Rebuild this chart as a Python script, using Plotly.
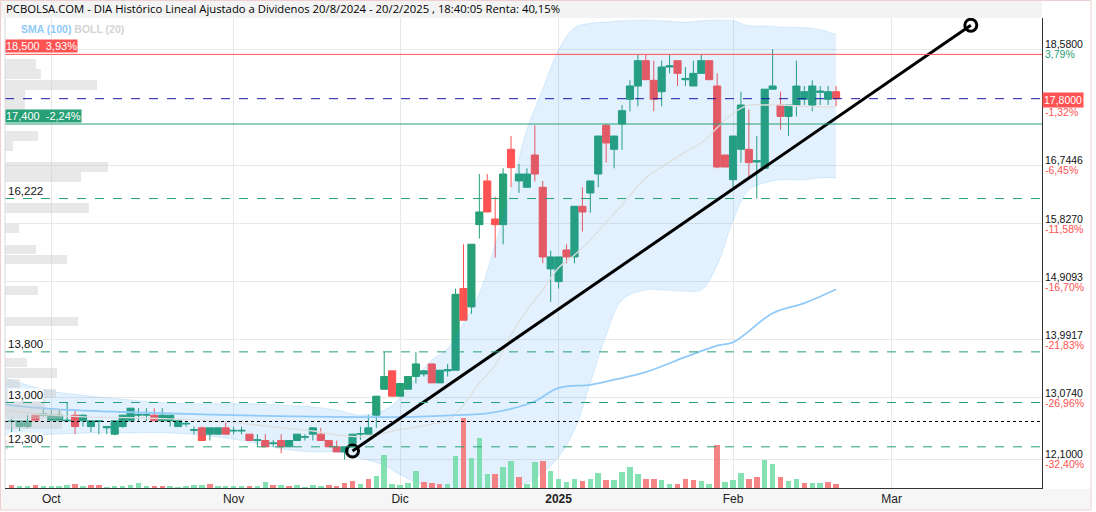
import pandas as pd
import plotly.graph_objects as go

# ---------------- data ----------------
HOLIDAYS = ["2024-12-25", "2024-12-26", "2025-01-01"]
FIRST_DAY = "2024-09-24"
LAST_DAY = "2025-02-20"

OPEN = [12.70, 12.62, 12.62, 12.80, 12.80,
        12.71, 12.71, 12.71, 12.80, 12.71, 12.62, 12.70, 12.60, 12.50, 12.62, 12.71, 12.80, 12.80, 12.80, 12.71, 12.71, 12.62, 12.66, 12.56, 12.60, 12.50, 12.50, 12.60,
        12.55, 12.55, 12.50, 12.40, 12.40, 12.35, 12.40, 12.30, 12.40, 12.45, 12.50, 12.50, 12.40, 12.30, 12.22, 12.30, 12.50, 12.50, 12.80, 13.21, 13.50,
        13.10, 13.21, 13.41, 13.45, 13.61, 13.31, 13.50, 13.51, 14.80, 14.51, 15.81, 16.50, 15.90, 15.81, 17.00, 16.50, 16.40, 16.91, 16.40, 15.11,
        14.91, 15.41, 15.30, 16.10, 16.31, 16.61, 17.38, 17.00, 17.40, 17.79, 18.00, 18.40, 18.09, 17.91, 18.30, 18.40, 18.10, 18.00, 18.20, 18.40, 18.00, 16.91,
        16.52, 17.00, 17.00, 16.80, 16.70, 17.95, 17.70, 17.52, 17.70, 17.79, 17.70, 17.90, 17.79, 17.91]
HIGH = [12.74, 12.72, 12.80, 12.80, 12.91,
        12.89, 12.89, 13.00, 12.89, 12.81, 12.71, 12.72, 12.63, 12.71, 12.80, 12.91, 12.91, 12.91, 12.91, 12.91, 12.80, 12.71, 12.71, 12.62, 12.62, 12.60, 12.60, 12.70,
        12.62, 12.62, 12.50, 12.50, 12.50, 12.41, 12.50, 12.40, 12.50, 12.50, 12.60, 12.60, 12.40, 12.40, 12.30, 12.50, 12.62, 12.80, 13.10, 13.80, 13.50,
        13.30, 13.41, 13.80, 13.51, 13.61, 13.51, 13.61, 14.80, 15.50, 15.50, 16.61, 16.61, 16.25, 16.70, 17.21, 16.77, 16.70, 17.38, 16.50, 15.40,
        15.30, 15.50, 16.10, 16.40, 16.50, 17.21, 17.40, 17.21, 17.70, 18.09, 18.50, 18.50, 18.40, 18.40, 18.50, 18.40, 18.30, 18.40, 18.50, 18.40, 18.20, 16.91,
        17.21, 17.91, 17.63, 17.21, 17.95, 18.58, 17.91, 17.70, 18.40, 18.00, 18.09, 18.00, 18.00, 18.00]
LOW = [12.53, 12.55, 12.60, 12.70, 12.78,
       12.70, 12.70, 12.70, 12.50, 12.62, 12.53, 12.50, 12.50, 12.48, 12.60, 12.70, 12.71, 12.71, 12.71, 12.70, 12.62, 12.62, 12.62, 12.50, 12.40, 12.40, 12.50, 12.50,
       12.50, 12.50, 12.40, 12.30, 12.30, 12.30, 12.20, 12.30, 12.40, 12.40, 12.40, 12.40, 12.30, 12.22, 12.10, 12.30, 12.41, 12.50, 12.60, 13.21, 13.10,
       13.10, 13.21, 13.30, 13.41, 13.31, 13.31, 13.41, 13.51, 14.30, 14.40, 15.59, 16.01, 15.29, 15.50, 16.40, 16.31, 16.40, 16.49, 15.20, 14.59,
       14.80, 15.20, 15.20, 15.70, 16.00, 16.40, 16.79, 16.70, 16.99, 17.60, 17.68, 18.10, 17.60, 17.68, 18.20, 18.00, 18.00, 18.00, 18.20, 18.20, 16.70, 16.72,
       16.40, 16.79, 16.54, 16.22, 16.70, 17.95, 17.31, 17.21, 17.52, 17.70, 17.60, 17.70, 17.70, 17.68]
CLOSE = [12.71, 12.71, 12.71, 12.71, 12.82,
         12.80, 12.80, 12.72, 12.62, 12.80, 12.71, 12.71, 12.62, 12.71, 12.80, 12.91, 12.81, 12.81, 12.71, 12.80, 12.80, 12.71, 12.67, 12.57, 12.40, 12.60, 12.60, 12.50,
         12.56, 12.56, 12.40, 12.41, 12.30, 12.36, 12.30, 12.40, 12.50, 12.46, 12.60, 12.40, 12.30, 12.22, 12.30, 12.50, 12.51, 12.60, 13.10, 13.41, 13.10,
         13.30, 13.41, 13.61, 13.50, 13.31, 13.51, 13.52, 14.71, 14.30, 15.50, 16.01, 16.01, 15.81, 16.61, 16.71, 16.61, 16.61, 16.61, 15.30, 15.30,
         15.30, 15.30, 16.10, 16.01, 16.50, 17.21, 17.10, 17.21, 17.61, 18.00, 18.40, 18.10, 17.79, 18.30, 18.32, 18.20, 18.12, 18.20, 18.40, 18.10, 16.72, 16.72,
         17.21, 17.70, 16.79, 16.82, 17.95, 18.00, 17.52, 17.70, 18.00, 17.91, 18.00, 17.92, 17.91, 17.80]
VOLUME = [30, 23, 23, 30, 17,
          17, 23, 33, 43, 17, 33, 33, 10, 17, 23, 30, 50, 17, 17, 17, 23, 10, 17, 30, 33, 43, 17, 23,
          17, 17, 23, 23, 60, 33, 33, 17, 33, 10, 33, 23, 33, 23, 50, 70, 43, 90, 120, 330, 43,
          33, 53, 170, 63, 53, 43, 43, 320, 700, 300, 500, 143, 143, 210, 270, 113, 43, 260, 270, 170,
          93, 60, 93, 73, 93, 150, 83, 83, 160, 210, 143, 93, 93, 83, 43, 43, 93, 83, 73, 43, 430, 63,
          80, 153, 93, 113, 283, 243, 113, 73, 93, 53, 53, 53, 63, 43]
# u = up-day volume (green), d = down-day volume (red); Sep | Oct | Nov | Dec | Jan | Feb
VOL_DIR = ("duudu"
           + "uuududduuuuuudduuuuuduud"[:23]
           + "uuduududuuuudddduduuud"[:21]
           + "uuuddduuduuuduuduudu"
           + "uuuduuduuuudduuddduudu"
           + "uudduuduuduudd")

BB_DATES = ["2024-09-23", "2024-10-01", "2024-10-08", "2024-10-15", "2024-10-22", "2024-10-29",
            "2024-11-05", "2024-11-11", "2024-11-15", "2024-11-20", "2024-11-25", "2024-11-28",
            "2024-12-02", "2024-12-04", "2024-12-06", "2024-12-10", "2024-12-12", "2024-12-16",
            "2024-12-18", "2024-12-20", "2024-12-24", "2024-12-30", "2025-01-02", "2025-01-06",
            "2025-01-08", "2025-01-10", "2025-01-14", "2025-01-17", "2025-01-21", "2025-01-24",
            "2025-01-28", "2025-01-30", "2025-02-03", "2025-02-05", "2025-02-07", "2025-02-11",
            "2025-02-14", "2025-02-18", "2025-02-20"]
BB_UPPER = [13.39, 13.18, 13.10, 13.04, 12.99, 12.98, 12.98, 12.96, 12.93, 12.88, 12.80, 12.88,
            13.07, 13.39, 13.67, 13.85, 14.25, 14.72, 15.49, 16.36, 17.31, 17.95, 18.57, 18.92,
            18.99, 19.01, 19.03, 19.04, 19.03, 19.01, 19.03, 19.04, 19.03, 18.95, 18.95, 18.93,
            18.92, 18.89, 18.81]
BB_MID = [12.88, 12.80, 12.77, 12.76, 12.74, 12.71, 12.66, 12.60, 12.55, 12.49, 12.46, 12.52,
          12.57, 12.61, 12.66, 12.72, 12.96, 13.31, 13.59, 14.07, 14.46, 14.78, 15.13, 15.33,
          15.57, 15.85, 16.12, 16.55, 16.72, 16.96, 17.10, 17.34, 17.57, 17.70, 17.70, 17.70,
          17.68, 17.67, 17.67]
BB_LOWER = [12.49, 12.50, 12.52, 12.52, 12.52, 12.47, 12.38, 12.27, 12.22, 12.22, 12.12, 12.01,
            11.86, 11.74, 11.65, 11.62, 11.62, 11.65, 11.67, 11.68, 11.73, 11.89, 12.14, 12.57,
            13.31, 14.07, 14.62, 14.78, 14.78, 14.76, 14.78, 15.17, 15.88, 16.36, 16.47, 16.52,
            16.52, 16.55, 16.55]

SMA_DATES = ["2024-09-23", "2024-10-01", "2024-10-14", "2024-11-01", "2024-11-22", "2024-12-02",
             "2024-12-11", "2024-12-17", "2024-12-20", "2024-12-27", "2025-01-02", "2025-01-08",
             "2025-01-13", "2025-01-17", "2025-01-24", "2025-01-30", "2025-02-03", "2025-02-10",
             "2025-02-14", "2025-02-20"]
SMA_VALUES = [12.97, 12.90, 12.85, 12.80, 12.77, 12.77, 12.80, 12.83, 12.90, 13.02, 13.23, 13.28,
              13.36, 13.48, 13.72, 13.90, 13.95, 14.41, 14.57, 14.79]

PROFILE_PRICE = [18.35, 18.19, 18.02, 17.86, 17.70, 17.21, 17.05, 16.72, 16.56, 16.07, 15.75,
                 15.42, 15.26, 14.77, 14.28, 13.63, 13.47, 13.30, 13.14, 12.98, 12.82, 12.65, 12.33]
PROFILE_VOL = [31, 36, 92, 20, 20, 33, 8, 103, 76, 84, 14, 31, 62, 33, 73, 22, 52, 15, 51, 40, 57, 57, 3]

RESIST, RESIST_TXT = 18.5, "18,500  3,93%"
SUPPORT, SUPPORT_TXT = 17.4, "17,400  -2,24%"
LAST_PRICE, LAST_TXT, LAST_PCT = 17.8, "17,8000", "-1,32%"
START_PRICE = 12.70
DASHED_LEVELS = [16.222, 13.8, 13.0, 12.3]
DASHED_TXT = ["16,222", "13,800", "13,000", "12,300"]

Y_TICKS = [18.58, 16.7446, 15.827, 14.9093, 13.9917, 13.074, 12.1]
Y_TICK_PCT = ["3,79%", "-6,45%", "-11,58%", "-16,70%", "-21,83%", "-26,96%", "-32,40%"]

TREND_DATES = ["2024-11-22", "2025-03-17"]
TREND_VALUES = [12.234, 18.96]

MONTH_TICKS = ["2024-10-01", "2024-11-01", "2024-12-02", "2025-01-02", "2025-02-03", "2025-03-03"]
MONTH_LABELS = ["Oct", "Nov", "Dic", "<b>2025</b>", "Feb", "Mar"]

TITLE = ("PCBOLSA.COM - DIA Histórico Lineal Ajustado a Dividenos 20/8/2024 - 20/2/2025 , "
         "18:40:05 Renta: 40,15%")

# ---------------- calendar (trading-day axis) ----------------
cal = pd.bdate_range("2024-09-23", "2025-04-30", freq="C", holidays=HOLIDAYS)
POS = {d.strftime("%Y-%m-%d"): i for i, d in enumerate(cal)}
DATES = [d for d in POS if FIRST_DAY <= d <= LAST_DAY]
X = [POS[d] for d in DATES]

GREEN = "#26a074"
RED = "#ff5252"
VGREEN = "rgba(110,220,165,0.85)"
VRED = "rgba(245,110,110,0.85)"
AXFONT = "Arial"

fig = go.Figure()

# Bollinger band
bbx = [POS[d] for d in BB_DATES]
fig.add_trace(go.Scatter(x=bbx, y=BB_UPPER, mode="lines", line=dict(color="rgba(33,150,243,0.15)", width=1, shape="spline"),
                         hoverinfo="skip"))
fig.add_trace(go.Scatter(x=bbx, y=BB_LOWER, mode="lines", line=dict(color="rgba(33,150,243,0.15)", width=1, shape="spline"),
                         fill="tonexty", fillcolor="rgba(33,150,243,0.13)", hoverinfo="skip"))
fig.add_trace(go.Scatter(x=bbx, y=BB_MID, mode="lines", line=dict(color="#dedede", width=1.3, shape="spline"),
                         hoverinfo="skip"))
# SMA 100
fig.add_trace(go.Scatter(x=[POS[d] for d in SMA_DATES], y=SMA_VALUES, mode="lines",
                         line=dict(color="#90caf9", width=1.8, shape="spline"), hoverinfo="skip"))
# volume profile
fig.add_trace(go.Bar(x=PROFILE_VOL, y=PROFILE_PRICE, orientation="h", width=0.15,
                     marker=dict(color="rgba(205,205,205,0.45)", line=dict(width=0)),
                     xaxis="x2", yaxis="y", hoverinfo="skip"))
# volume
fig.add_trace(go.Bar(x=X, y=VOLUME, width=0.7,
                     marker=dict(color=[VGREEN if c == "u" else VRED for c in VOL_DIR], line=dict(width=0)),
                     xaxis="x", yaxis="y2", hoverinfo="skip"))
# candles
fig.add_trace(go.Candlestick(x=X, open=OPEN, high=HIGH, low=LOW, close=CLOSE,
                             increasing=dict(line=dict(color=GREEN, width=1), fillcolor=GREEN),
                             decreasing=dict(line=dict(color=RED, width=1), fillcolor=RED),
                             whiskerwidth=0, hoverinfo="skip"))
# trend line
fig.add_trace(go.Scatter(x=[POS[d] for d in TREND_DATES], y=TREND_VALUES, mode="lines+markers",
                         line=dict(color="black", width=3),
                         marker=dict(symbol="circle-open", size=12, color="black", line=dict(width=3)),
                         hoverinfo="skip"))

shapes = []
def hline(y, color, dash="solid", width=1):
    shapes.append(dict(type="line", xref="paper", yref="y", x0=0, x1=1, y0=y, y1=y,
                       line=dict(color=color, width=width, dash=dash)))

hline(RESIST, RED)
hline(SUPPORT, GREEN)
hline(LAST_PRICE, "#1a1aa6", "dash")
hline(START_PRICE, "black", "dot")
for lv in DASHED_LEVELS:
    hline(lv, GREEN, "dash")

W, H = 1096, 512
L, R, T, B = 5, 54, 18, 24
PW, PH = W - L - R, H - T - B
def px(xp):
    return (xp - L) / PW
def py(yp):
    return (H - B - yp) / PH

# title bar, bottom bar, frame
shapes.append(dict(type="rect", xref="paper", yref="paper", x0=px(0), x1=px(1042), y0=py(18), y1=py(0),
                   fillcolor="#f3f3f3", line=dict(width=0), layer="below"))
shapes.append(dict(type="rect", xref="paper", yref="paper", x0=px(0), x1=px(1091), y0=py(510), y1=py(489),
                   fillcolor="#f6f6f6", line=dict(width=0), layer="below"))
shapes.append(dict(type="rect", xref="paper", yref="paper", x0=px(0.5), x1=px(1091), y0=py(510), y1=py(0.5),
                   fillcolor="rgba(0,0,0,0)", line=dict(color="#efcfcf", width=1), layer="below"))
shapes.append(dict(type="line", xref="paper", yref="paper", x0=0, x1=0, y0=0, y1=1,
                   line=dict(color="#d9d9d9", width=1)))

ann = []
ann.append(dict(xref="paper", yref="paper", x=px(4), y=py(9), xanchor="left", yanchor="middle",
                text=TITLE, showarrow=False, font=dict(family="Open Sans", size=11.3, color="#000")))
ann.append(dict(xref="paper", yref="paper", x=px(19), y=py(29), xanchor="left", yanchor="middle",
                text="<b><span style='color:#90caf9'>SMA (100)</span> <span style='color:#d4d4d4'>BOLL (20)</span></b>",
                showarrow=False, font=dict(family=AXFONT, size=10.5)))
ann.append(dict(xref="paper", yref="y", x=0, y=RESIST, xanchor="left", yanchor="bottom", yshift=1,
                text=RESIST_TXT, showarrow=False, bgcolor=RED, borderpad=0,
                font=dict(family=AXFONT, size=11, color="white")))
ann.append(dict(xref="paper", yref="y", x=0, y=SUPPORT, xanchor="left", yanchor="bottom", yshift=1,
                text=SUPPORT_TXT, showarrow=False, bgcolor=GREEN, borderpad=0,
                font=dict(family=AXFONT, size=11, color="white")))
for lv, t in zip(DASHED_LEVELS, DASHED_TXT):
    ann.append(dict(xref="paper", yref="y", x=px(7), y=lv, xanchor="left", yanchor="bottom", yshift=1,
                    text=t, showarrow=False, bgcolor="rgba(255,255,255,0.85)", borderpad=0,
                    font=dict(family=AXFONT, size=11.5, color="#111")))

def fmt(v):
    return f"{v:.4f}".replace(".", ",")

# right-axis two-line labels (price above the grid line, change below it)
for v, p in zip(Y_TICKS, Y_TICK_PCT):
    col = GREEN if not p.startswith("-") else RED
    ann.append(dict(xref="paper", yref="y", x=1, y=v, xanchor="left", yanchor="middle", xshift=1, yshift=5,
                    text=fmt(v), showarrow=False, font=dict(family=AXFONT, size=10.5, color="#111")))
    ann.append(dict(xref="paper", yref="y", x=1, y=v, xanchor="left", yanchor="middle", xshift=1, yshift=-5,
                    text=p, showarrow=False, font=dict(family=AXFONT, size=10.5, color=col)))
ann.append(dict(xref="paper", yref="y", x=1, y=LAST_PRICE, xanchor="left", yanchor="middle", xshift=0, yshift=-1,
                text=LAST_TXT, showarrow=False, bgcolor=RED, borderpad=1,
                font=dict(family=AXFONT, size=10.5, color="white")))
ann.append(dict(xref="paper", yref="y", x=1, y=LAST_PRICE, xanchor="left", yanchor="middle", xshift=1, yshift=-13,
                text=LAST_PCT, showarrow=False, font=dict(family=AXFONT, size=10.5, color=RED)))

oct_idx = POS["2024-10-01"]
x_range = [oct_idx - 5.84, oct_idx + 124.98]

fig.update_layout(
    width=W, height=H, margin=dict(l=L, r=R, t=T, b=B),
    paper_bgcolor="white", plot_bgcolor="white",
    showlegend=False, hovermode=False,
    boxgap=0.1, boxgroupgap=0, bargap=0,
    shapes=shapes, annotations=ann,
    font=dict(family=AXFONT, size=12, color="#222"),
    xaxis=dict(range=x_range, tickvals=[POS[d] for d in MONTH_TICKS], ticktext=MONTH_LABELS,
               showgrid=True, gridcolor="#e8e8e8", gridwidth=1, zeroline=False,
               showline=True, linecolor="#333", linewidth=1, ticks="",
               rangeslider=dict(visible=False), tickfont=dict(size=12, color="#222"), fixedrange=True),
    xaxis2=dict(range=[0, PW], overlaying="x", visible=False, fixedrange=True),
    yaxis=dict(range=[11.6495, 19.0745], side="right", tickvals=Y_TICKS, showticklabels=False,
               showgrid=True, gridcolor="#e8e8e8", zeroline=False,
               showline=True, linecolor="#333", linewidth=1, ticks="", fixedrange=True),
    yaxis2=dict(range=[0, 4700], overlaying="y", visible=False, fixedrange=True),
)

fig.write_html("out.html")
